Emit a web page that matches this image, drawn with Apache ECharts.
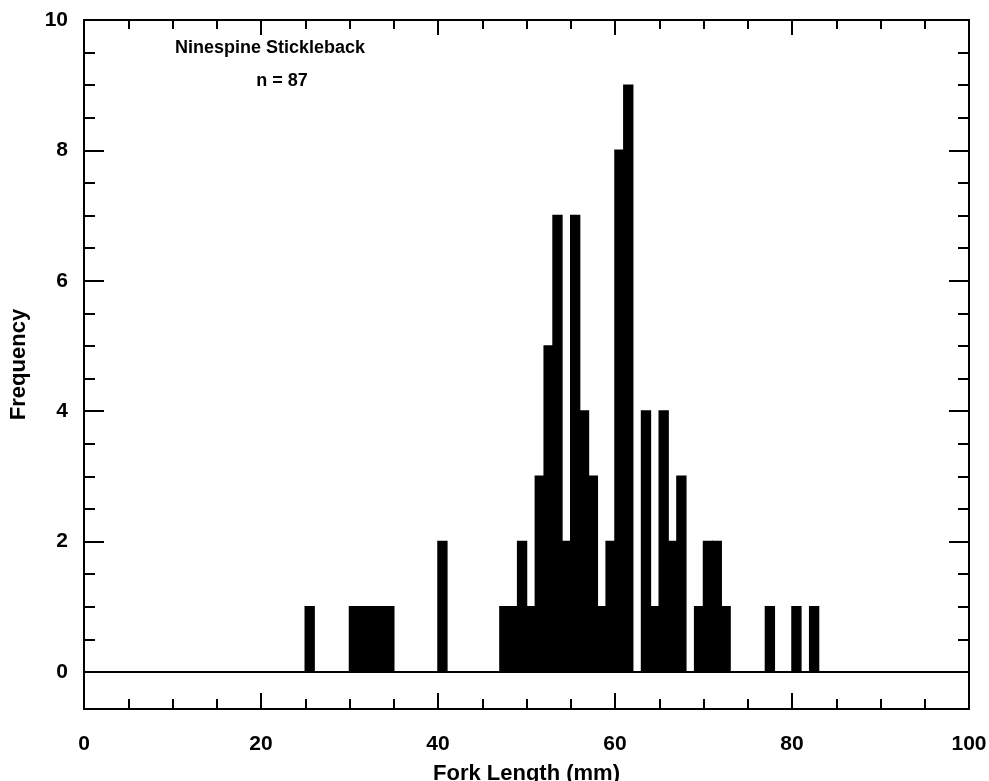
<!DOCTYPE html>
<html>
<head>
<meta charset="utf-8">
<script src="https://cdn.jsdelivr.net/npm/echarts@6/dist/echarts.min.js"></script>
<style>
html,body{margin:0;padding:0;background:#fff;}
#chart{width:989px;height:781px;}
</style>
</head>
<body>
<div id="chart"></div>
<script>
// Histogram bins (lower edge of each 1-mm bin) and frequencies
const binStart = [25,30,31,32,33,34,40,47,48,49,50,51,52,53,54,55,56,57,58,59,60,61,63,64,65,66,67,69,70,71,72,77,80,82];
const frequency = [1,1,1,1,1,1,2,1,1,2,1,3,5,7,2,7,4,3,1,2,8,9,4,1,4,2,3,1,2,2,1,1,1,1];
const binWidth = 1;
const xTickLabels = [0,20,40,60,80,100];
const yTickLabels = [0,2,4,6,8,10];
const yMinorTicks = [0,0.5,1,1.5,2,2.5,3,3.5,4,4.5,5,5.5,6,6.5,7,7.5,8,8.5,9,9.5,10];
const titleLine1 = 'Ninespine Stickleback';
const titleLine2 = 'n = 87';
const xName = 'Fork Length (mm)';
const yName = 'Frequency';

const FONT = '"Liberation Sans", Arial, Helvetica, sans-serif';
const data = binStart.map((b, i) => [b, b + binWidth, frequency[i]]);

const chart = echarts.init(document.getElementById('chart'), null, {renderer: 'canvas'});
const yRange = {min: -0.57, max: 10};
const lineSt = {color: '#000', width: 2};

chart.setOption({
  animation: false,
  backgroundColor: '#fff',
  grid: {left: 84, right: 20, top: 20, bottom: 72, containLabel: false, outerBoundsMode: 'none'},
  graphic: [
    {type: 'text', x: 270, y: 39, style: {text: titleLine1, font: 'bold 18px ' + FONT, fill: '#000', textAlign: 'center'}},
    {type: 'text', x: 282, y: 72, style: {text: titleLine2, font: 'bold 18px ' + FONT, fill: '#000', textAlign: 'center'}}
  ],
  xAxis: [
    {
      type: 'value', position: 'bottom', min: 0, max: 100, interval: 20,
      name: xName, nameLocation: 'middle', nameGap: 54,
      nameTextStyle: {fontFamily: FONT, fontWeight: 'bold', fontSize: 22, color: '#000'},
      axisLine: {show: true, onZero: false, lineStyle: lineSt},
      axisTick: {show: true, inside: true, length: 16, lineStyle: lineSt},
      minorTick: {show: true, splitNumber: 4, length: 10, lineStyle: lineSt},
      axisLabel: {show: true, margin: 25, fontFamily: FONT, fontWeight: 'bold', fontSize: 21, color: '#000'},
      splitLine: {show: false}, minorSplitLine: {show: false}
    },
    {
      type: 'value', position: 'top', min: 0, max: 100, interval: 20,
      axisLine: {show: true, onZero: false, lineStyle: lineSt},
      axisTick: {show: true, inside: true, length: 15, lineStyle: lineSt},
      minorTick: {show: true, splitNumber: 4, length: 9, lineStyle: lineSt},
      axisLabel: {show: false},
      splitLine: {show: false}
    }
  ],
  yAxis: [
    {
      type: 'value', position: 'left', min: yRange.min, max: yRange.max,
      name: yName, nameLocation: 'middle', nameGap: 54, nameRotate: 90,
      nameTextStyle: {fontFamily: FONT, fontWeight: 'bold', fontSize: 22, color: '#000'},
      axisLine: {show: true, onZero: false, lineStyle: lineSt},
      axisTick: {show: true, inside: true, length: 20, lineStyle: lineSt, customValues: yTickLabels},
      axisLabel: {show: true, margin: 16, fontFamily: FONT, fontWeight: 'bold', fontSize: 21, color: '#000', customValues: yTickLabels},
      splitLine: {show: false}
    },
    {
      type: 'value', position: 'left', min: yRange.min, max: yRange.max,
      axisLine: {show: false, onZero: false},
      axisTick: {show: true, inside: true, length: 11, lineStyle: lineSt, customValues: yMinorTicks},
      axisLabel: {show: false},
      splitLine: {show: false}
    },
    {
      type: 'value', position: 'right', min: yRange.min, max: yRange.max,
      axisLine: {show: true, onZero: false, lineStyle: lineSt},
      axisTick: {show: true, inside: true, length: 20, lineStyle: lineSt, customValues: yTickLabels},
      axisLabel: {show: false},
      splitLine: {show: false}
    },
    {
      type: 'value', position: 'right', min: yRange.min, max: yRange.max,
      axisLine: {show: false, onZero: false},
      axisTick: {show: true, inside: true, length: 11, lineStyle: lineSt, customValues: yMinorTicks},
      axisLabel: {show: false},
      splitLine: {show: false}
    }
  ],
  series: [
    {
      type: 'custom',
      xAxisIndex: 0, yAxisIndex: 0,
      encode: {x: [0, 1], y: 2},
      data: data,
      renderItem: function (params, api) {
        const p0 = api.coord([api.value(0), api.value(2)]);
        const p1 = api.coord([api.value(1), 0]);
        return {
          type: 'rect',
          shape: {x: p0[0], y: p0[1], width: p1[0] - p0[0], height: p1[1] - p0[1]},
          style: {fill: '#000', stroke: '#000', lineWidth: 1.5}
        };
      },
      markLine: {
        silent: true, symbol: 'none', animation: false,
        label: {show: false},
        lineStyle: {color: '#000', width: 2, type: 'solid'},
        data: [{yAxis: 0}]
      }
    }
  ]
});
</script>
</body>
</html>
